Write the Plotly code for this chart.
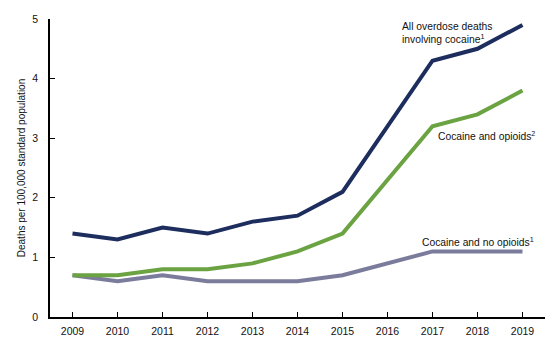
import plotly.graph_objects as go

years = [2009, 2010, 2011, 2012, 2013, 2014, 2015, 2016, 2017, 2018, 2019]
all_cocaine = [1.4, 1.3, 1.5, 1.4, 1.6, 1.7, 2.1, 3.2, 4.3, 4.5, 4.9]
cocaine_opioids = [0.7, 0.7, 0.8, 0.8, 0.9, 1.1, 1.4, 2.3, 3.2, 3.4, 3.8]
cocaine_no_opioids = [0.7, 0.6, 0.7, 0.6, 0.6, 0.6, 0.7, 0.9, 1.1, 1.1, 1.1]

series = [
    ("All overdose deaths involving cocaine", all_cocaine, "#1c2d5e"),
    ("Cocaine and opioids", cocaine_opioids, "#6ba343"),
    ("Cocaine and no opioids", cocaine_no_opioids, "#7b7c9b"),
]

fig = go.Figure()
# draw gray first so navy/green sit on top
for name, vals, color in reversed(series):
    fig.add_trace(go.Scatter(x=years, y=vals, mode="lines", name=name,
                             line=dict(color=color, width=4)))

family = "Liberation Sans, Arial, sans-serif"
font = dict(family=family, size=10.5, color="#111111")
note_font = dict(family=family, size=10.3, color="#111111")

fig.add_annotation(x=2016.28, y=5.0, xanchor="left", yanchor="top", showarrow=False,
                   align="left", text="All overdose deaths<br>involving cocaine<sup>1</sup>",
                   font=note_font)
fig.add_annotation(x=2017.08, y=3.04, xanchor="left", yanchor="middle", showarrow=False,
                   align="left", text="Cocaine and opioids<sup>2</sup>", font=note_font)
fig.add_annotation(x=2016.73, y=1.27, xanchor="left", yanchor="middle", showarrow=False,
                   align="left", text="Cocaine and no opioids<sup>1</sup>", font=note_font)

fig.update_layout(
    width=560, height=348,
    margin=dict(l=50, r=15, t=19, b=31),
    paper_bgcolor="white", plot_bgcolor="white",
    showlegend=False,
    font=font,
    xaxis=dict(range=[2008.5, 2019.5], tickmode="array", tickvals=years,
               ticks="inside", ticklen=5, tickcolor="black", showgrid=False,
               showline=True, linecolor="black", linewidth=1.5, zeroline=False,
               ticklabelstandoff=4),
    yaxis=dict(range=[0, 5], dtick=1, ticks="inside", ticklen=5, tickcolor="black",
               showgrid=False, showline=True, linecolor="black", linewidth=1.5,
               zeroline=False, ticklabelstandoff=8,
               title=dict(text="Deaths per 100,000 standard population", standoff=5,
                          font=dict(family=family, size=10, color="#111111"))),
)

fig.write_html("out.html")
